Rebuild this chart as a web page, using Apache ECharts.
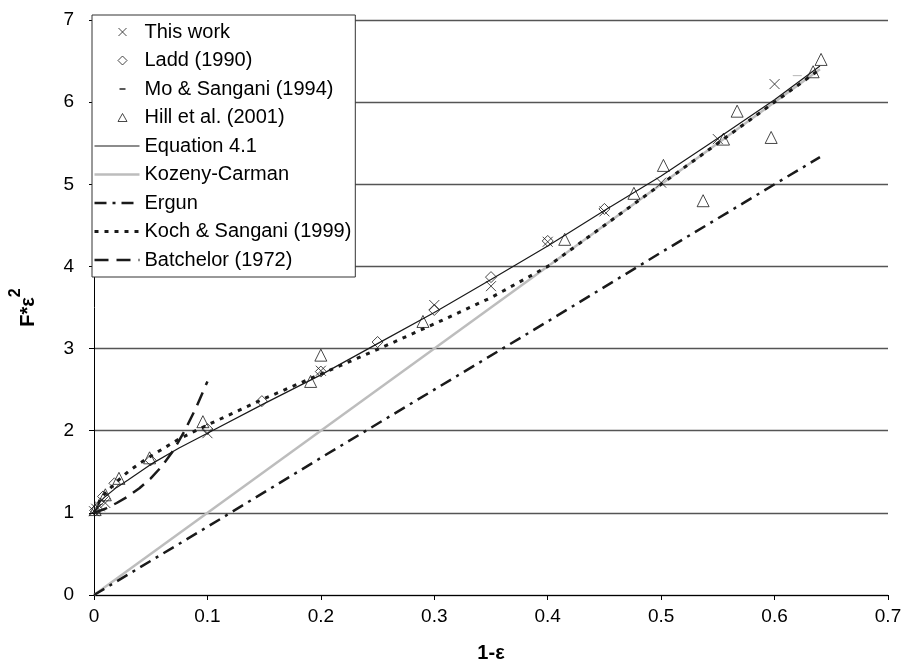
<!DOCTYPE html>
<html>
<head>
<meta charset="utf-8">
<script src="https://cdn.jsdelivr.net/npm/echarts@6/dist/echarts.min.js"></script>
<style>
  html, body { margin: 0; padding: 0; background: #fff; }
  #chart { width: 911px; height: 668px; }
</style>
</head>
<body>
<div id="chart"></div>
<script>
// Normalised drag F*ε² against solid fraction 1-ε

// Simulation points (this work)
const thisWorkX = [0.000, 0.002, 0.005, 0.010, 0.100, 0.200, 0.300, 0.350, 0.400, 0.450, 0.500, 0.550, 0.600];
const thisWorkY = [1.02, 1.05, 1.08, 1.12, 1.97, 2.73, 3.53, 3.76, 4.30, 4.67, 5.02, 5.55, 6.22];

// Ladd (1990)
const laddX = [0.001, 0.008, 0.018, 0.050, 0.100, 0.148, 0.200, 0.250, 0.300, 0.350, 0.400, 0.450];
const laddY = [1.03, 1.20, 1.36, 1.64, 2.02, 2.36, 2.72, 3.08, 3.47, 3.87, 4.31, 4.70];

// Mo & Sangani (1994)
const moX = [0.004, 0.620];
const moY = [1.10, 6.32];

// Hill et al. (2001)
const hillX = [0.001, 0.010, 0.022, 0.049, 0.096, 0.191, 0.200, 0.290, 0.415, 0.476, 0.502, 0.537, 0.555, 0.567, 0.597, 0.634, 0.641];
const hillY = [1.04, 1.22, 1.42, 1.67, 2.11, 2.60, 2.92, 3.33, 4.33, 4.89, 5.23, 4.80, 5.55, 5.89, 5.57, 6.37, 6.52];

// Equation 4.1
const eqX = [0, 0.005, 0.01, 0.02, 0.03, 0.05, 0.075, 0.10, 0.15, 0.20, 0.25, 0.30, 0.35, 0.40, 0.45, 0.50, 0.55, 0.60, 0.64];
const eqY = [1.00, 1.13, 1.20, 1.31, 1.40, 1.59, 1.79, 1.97, 2.33, 2.68, 3.06, 3.44, 3.84, 4.25, 4.68, 5.10, 5.56, 6.03, 6.44];

// Kozeny-Carman
const kcX = [0, 0.64];
const kcY = [0, 6.40];

// Ergun
const ergunX = [0, 0.10, 0.20, 0.30, 0.40, 0.50, 0.60, 0.64];
const ergunY = [0, 0.83, 1.67, 2.50, 3.33, 4.17, 5.00, 5.33];

// Koch & Sangani (1999)
const kochX = [0, 0.005, 0.01, 0.02, 0.03, 0.04, 0.05, 0.075, 0.10, 0.15, 0.20, 0.25, 0.30, 0.35, 0.40, 0.50, 0.64];
const kochY = [1.00, 1.15, 1.24, 1.38, 1.50, 1.60, 1.69, 1.90, 2.07, 2.39, 2.69, 2.99, 3.30, 3.62, 4.00, 5.00, 6.40];

// Batchelor (1972)
const batchX = [0, 0.01, 0.02, 0.03, 0.04, 0.05, 0.06, 0.07, 0.08, 0.09, 0.10];
const batchY = [1.00, 1.05, 1.12, 1.20, 1.30, 1.42, 1.57, 1.76, 2.00, 2.28, 2.60];

const xTicks = ['0', '0.1', '0.2', '0.3', '0.4', '0.5', '0.6', '0.7'];

const zip = (xs, ys) => xs.map((x, i) => [x, ys[i]]);

const INK = '#1a1a1a';
const FONT = '"Liberation Sans", Arial, sans-serif';

// plot markers
const crossPath = 'path://M0,0L10,10M10,0L0,10';
const dashPath = 'path://M0,0L10,0L10,2L0,2Z';

// legend markers: a 45x9 frame (invisible move-to corners) with the glyph placed inside
const LEG_FRAME = 'M0,0M45,9';
const legCross = 'path://' + LEG_FRAME + 'M24,0.5L32,8.5M32,0.5L24,8.5';
const legDiamond = 'path://' + LEG_FRAME + 'M28,0L32.5,4.5L28,9L23.5,4.5Z';
const legDash = 'path://' + LEG_FRAME + 'M25,3.6L31,3.6L31,5.4L25,5.4Z';
const legTriangle = 'path://' + LEG_FRAME + 'M28,0.5L32.5,8.5L23.5,8.5Z';

const hollow = { color: 'rgba(0,0,0,0)', borderColor: INK, borderWidth: 1 };
const noSymbol = { color: 'rgba(0,0,0,0)', borderColor: 'rgba(0,0,0,0)', borderWidth: 0 };

function markerSeries(name, data, symbol, size) {
  return {
    name, type: 'scatter', data, symbol, symbolSize: size, symbolKeepAspect: true, z: 5,
    itemStyle: Object.assign({}, hollow),
    emphasis: { disabled: true }
  };
}
function lineSeries(name, data, lineStyle, z) {
  return {
    name, type: 'line', data, symbol: 'none', smooth: false, z: z || 3,
    lineStyle: Object.assign({ color: INK }, lineStyle),
    itemStyle: { color: lineStyle.color || INK },
    emphasis: { disabled: true }
  };
}

const styles = {
  eq: { width: 1.2, type: 'solid' },
  kc: { width: 2.5, type: 'solid', color: '#bdbdbd' },
  ergun: { width: 2.5, type: [12, 6, 3, 6] },
  koch: { width: 3, type: [4, 6] },
  batch: { width: 2.5, type: [14, 8] }
};

const series = [
  markerSeries('This work', zip(thisWorkX, thisWorkY), crossPath, 10),
  markerSeries('Ladd (1990)', zip(laddX, laddY), 'diamond', 11),
  Object.assign(markerSeries('Mo & Sangani (1994)', zip(moX, moY), dashPath, [9, 2]),
    { itemStyle: { color: INK, borderWidth: 0 } }),
  markerSeries('Hill et al. (2001)', zip(hillX, hillY), 'triangle', 12),
  lineSeries('Equation 4.1', zip(eqX, eqY), styles.eq, 4),
  lineSeries('Kozeny-Carman', zip(kcX, kcY), styles.kc, 2),
  lineSeries('Ergun', zip(ergunX, ergunY), styles.ergun),
  lineSeries('Koch & Sangani (1999)', zip(kochX, kochY), styles.koch),
  lineSeries('Batchelor (1972)', zip(batchX, batchY), styles.batch)
];

const legendItems = [
  { name: 'This work', icon: legCross, itemStyle: Object.assign({}, hollow) },
  { name: 'Ladd (1990)', icon: legDiamond, itemStyle: Object.assign({}, hollow) },
  { name: 'Mo & Sangani (1994)', icon: legDash, itemStyle: { color: INK, borderWidth: 0 } },
  { name: 'Hill et al. (2001)', icon: legTriangle, itemStyle: Object.assign({}, hollow) },
  { name: 'Equation 4.1', itemStyle: noSymbol, lineStyle: Object.assign({ color: INK }, styles.eq) },
  { name: 'Kozeny-Carman', itemStyle: noSymbol, lineStyle: Object.assign({}, styles.kc) },
  { name: 'Ergun', itemStyle: noSymbol, lineStyle: Object.assign({ color: INK }, styles.ergun) },
  { name: 'Koch & Sangani (1999)', itemStyle: noSymbol, lineStyle: Object.assign({ color: INK }, styles.koch) },
  { name: 'Batchelor (1972)', itemStyle: noSymbol, lineStyle: Object.assign({ color: INK }, styles.batch) }
];

const chart = echarts.init(document.getElementById('chart'), null, { renderer: 'canvas' });
chart.setOption({
  animation: false,
  backgroundColor: '#ffffff',
  textStyle: { fontFamily: FONT, color: '#000' },
  grid: { left: 88, right: 23, top: 20, bottom: 60, containLabel: false },
  legend: {
    data: legendItems,
    orient: 'vertical', left: 92, top: 15,
    padding: [7, 4, 7, 1],
    itemWidth: 45, itemHeight: 9, itemGap: 8.5,
    symbolKeepAspect: false,
    backgroundColor: '#fff', borderColor: '#333', borderWidth: 1,
    selectedMode: false,
    textStyle: { fontFamily: FONT, fontSize: 20, lineHeight: 20, color: '#000' }
  },
  xAxis: {
    type: 'value', min: 0, max: 0.7, interval: 0.1,
    name: '1-ε', nameLocation: 'middle', nameGap: 48,
    nameTextStyle: { fontFamily: FONT, fontSize: 20, fontWeight: 'bold', color: '#000' },
    axisLine: { show: true, lineStyle: { color: '#000', width: 1 } },
    axisTick: { show: true, length: 5, lineStyle: { color: '#000' } },
    splitLine: { show: false },
    axisLabel: { fontFamily: FONT, fontSize: 19, color: '#000', margin: 12,
      formatter: (v) => xTicks[Math.round(v * 10)] }
  },
  yAxis: {
    type: 'value', min: 0, max: 7, interval: 1,
    name: '{a|F*ε}{b|2}', nameLocation: 'middle', nameGap: 56, nameRotate: 90,
    nameTextStyle: {
      rich: {
        a: { fontFamily: FONT, fontSize: 20, fontWeight: 'bold', color: '#000', lineHeight: 30, verticalAlign: 'bottom' },
        b: { fontFamily: FONT, fontSize: 16, fontWeight: 'bold', color: '#000', lineHeight: 30, verticalAlign: 'top' }
      }
    },
    axisLine: { show: true, lineStyle: { color: '#000', width: 1 } },
    axisTick: { show: true, length: 5, lineStyle: { color: '#000' } },
    splitLine: { show: true, lineStyle: { color: '#555', width: 1.3 } },
    axisLabel: { fontFamily: FONT, fontSize: 19, color: '#000', margin: 20 }
  },
  series
});
</script>
</body>
</html>
